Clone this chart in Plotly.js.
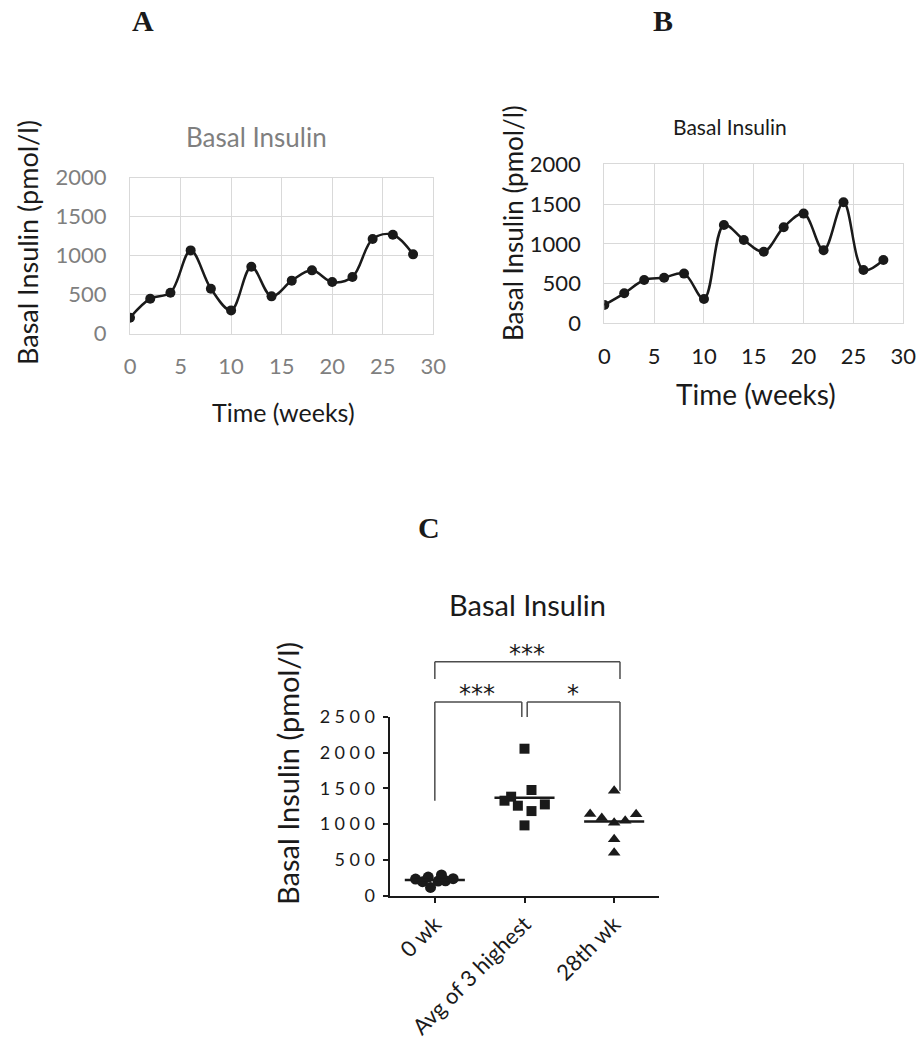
<!DOCTYPE html>
<html>
<head>
<meta charset="utf-8">
<script src="https://cdn.plot.ly/plotly-3.0.1.min.js"></script>
<style>
  html, body { margin: 0; padding: 0; background: #fff; }
  #chart { width: 919px; height: 1044px; }
  .y3tick text { letter-spacing: 4.5px; }
</style>
</head>
<body>
<div id="chart"></div>
<script>
// ---------------- DATA ----------------
const weeks = [0, 2, 4, 6, 8, 10, 12, 14, 16, 18, 20, 22, 24, 26, 28];
const insulinA = [205, 449, 526, 1068, 577, 299, 859, 479, 680, 812, 662, 727, 1214, 1269, 1017];
const insulinB = [231, 377, 545, 574, 625, 306, 1237, 1048, 901, 1208, 1380, 918, 1522, 671, 797];

const groups = ['0 wk', 'Avg of 3 highest', '28th wk'];
const wk0 = [233, 196, 260, 116, 205, 289, 209, 237];
const avg3 = [2053, 1476, 1383, 1327, 1257, 1182, 1275, 982];
const wk28 = [1466, 1140, 1085, 1019, 1047, 1136, 787, 600];

const axisTicksAB = [0, 500, 1000, 1500, 2000];
const axisTicksC = [0, 500, 1000, 1500, 2000, 2500];
const weekTicks = [0, 5, 10, 15, 20, 25, 30];

const titleText = 'Basal Insulin';
const yTitleText = 'Basal Insulin (pmol/l)';
const xTitleText = 'Time (weeks)';

// ---------------- LAYOUT HELPERS ----------------
const W = 919, H = 1044;
const fx = px => px / W;
const fy = py => 1 - py / H;

// horizontal scatter spread (layout only) for each group's points
const spread = [
  [-0.215, -0.137, -0.074, -0.048, 0.037, 0.074, 0.119, 0.204],
  [0, 0.078, -0.149, -0.223, -0.074, 0.078, 0.227, 0],
  [0, -0.268, -0.138, 0, 0.123, 0.245, 0, 0]
];
const groupVals = [wk0, avg3, wk28];
const groupSymbols = ['circle', 'square', 'triangle-up'];
const mean = a => a.reduce((s, v) => s + v, 0) / a.length;

const BLACK = '#1a1a1a';
const GRAYTXT = '#7f7f7f';
const GRID = '#d9d9d9';

const traces = [];

// Panel A
traces.push({
  x: weeks, y: insulinA, xaxis: 'x', yaxis: 'y', type: 'scatter', mode: 'lines+markers',
  line: { color: BLACK, width: 2.5, shape: 'spline', smoothing: 1 },
  marker: { color: BLACK, size: 10 }, hoverinfo: 'x+y', showlegend: false
});
// Panel B
traces.push({
  x: weeks, y: insulinB, xaxis: 'x2', yaxis: 'y2', type: 'scatter', mode: 'lines+markers',
  line: { color: BLACK, width: 2.5, shape: 'spline', smoothing: 1 },
  marker: { color: BLACK, size: 10 }, hoverinfo: 'x+y', showlegend: false
});
// Panel C points and mean lines
groupVals.forEach((vals, g) => {
  traces.push({
    x: vals.map((v, i) => g + spread[g][i]), y: vals, xaxis: 'x3', yaxis: 'y3',
    type: 'scatter', mode: 'markers', cliponaxis: false,
    marker: { color: BLACK, size: g === 1 ? 10 : 11, symbol: groupSymbols[g] },
    name: groups[g], showlegend: false
  });
  const m = mean(vals);
  traces.push({
    x: [g - 0.335, g + 0.335], y: [m, m], xaxis: 'x3', yaxis: 'y3',
    type: 'scatter', mode: 'lines', line: { color: BLACK, width: 2.5 },
    hoverinfo: 'skip', showlegend: false, cliponaxis: false
  });
});

const abX = (dom, tickColor, size) => ({
  domain: dom, range: [0, 30], tickvals: weekTicks, ticktext: weekTicks.map(String),
  showgrid: true, gridcolor: GRID, gridwidth: 1, zeroline: false,
  showline: true, mirror: true, linecolor: GRID, linewidth: 1,
  ticks: 'outside', ticklen: 13, tickcolor: 'rgba(0,0,0,0)',
  tickfont: { size: size, color: tickColor }, fixedrange: true
});
const abY = (dom, tickColor, size) => ({
  domain: dom, range: [0, 2000], tickvals: axisTicksAB, ticktext: axisTicksAB.map(String),
  showgrid: true, gridcolor: GRID, gridwidth: 1, zeroline: false,
  showline: true, mirror: true, linecolor: GRID, linewidth: 1,
  ticks: 'outside', ticklen: 18, tickcolor: 'rgba(0,0,0,0)',
  tickfont: { size: size, color: tickColor }, fixedrange: true
});

const ann = (text, x, y, size, color, extra) => Object.assign({
  text: text, x: fx(x), y: fy(y), xref: 'paper', yref: 'paper',
  xanchor: 'center', yanchor: 'middle', showarrow: false,
  font: { size: size, color: color }
}, extra || {});

const serif = { family: 'Liberation Serif, Times New Roman, serif', size: 30, color: '#1a1a1a' };
const starFont = { family: 'DejaVu Sans, sans-serif', size: 24, color: BLACK };

const annotations = [
  ann('<b>A</b>', 143, 21, 30, BLACK, { font: serif }),
  ann('<b>B</b>', 663, 21, 30, BLACK, { font: serif }),
  ann('<b>C</b>', 429, 527, 30, BLACK, { font: serif }),
  // Panel A
  ann(titleText, 256.7, 137, 26, GRAYTXT),
  ann(xTitleText, 283.3, 412, 25, BLACK),
  ann(yTitleText, 28, 243, 27, BLACK, { textangle: -90 }),
  // Panel B
  ann(titleText, 730, 126, 21, BLACK),
  ann(xTitleText, 755.7, 394, 28, BLACK),
  ann(yTitleText, 513, 223, 26, BLACK, { textangle: -90 }),
  // Panel C
  ann(titleText, 527, 604, 29, BLACK),
  ann(yTitleText, 287, 774, 29, BLACK, { textangle: -90 }),
  ann('***', 527, 654, 24, BLACK, { font: starFont }),
  ann('***', 477, 694, 24, BLACK, { font: starFont }),
  ann('*', 573, 694, 24, BLACK, { font: starFont })
];

// significance brackets (x in group units, y in page position)
const BR = '#4d4d4d';
const seg = (x0, y0, x1, y1) => ({
  type: 'line', xref: 'x3', yref: 'paper', x0: x0, x1: x1, y0: fy(y0), y1: fy(y1),
  line: { color: BR, width: 1.5 }
});
const shapes = [
  seg(0, 661.7, 2.065, 661.7), seg(0, 661.7, 0, 679), seg(2.065, 661.7, 2.065, 679),
  seg(0, 702, 0.97, 702), seg(0, 702, 0, 800.7), seg(0.97, 702, 0.97, 717),
  seg(1.03, 702, 2.065, 702), seg(1.03, 702, 1.03, 717), seg(2.065, 702, 2.065, 790.7)
];

const layout = {
  width: W, height: H,
  margin: { l: 0, r: 0, t: 0, b: 0 },
  paper_bgcolor: '#ffffff', plot_bgcolor: 'rgba(0,0,0,0)',
  font: { family: 'Lato, Carlito, sans-serif', color: BLACK },
  showlegend: false,
  xaxis: Object.assign(abX([fx(130), fx(433.3)], GRAYTXT, 22), { anchor: 'y' }),
  yaxis: Object.assign(abY([fy(333.7), fy(177.7)], GRAYTXT, 22), { anchor: 'x' }),
  xaxis2: Object.assign(abX([fx(604.3), fx(903.3)], BLACK, 22), { anchor: 'y2' }),
  yaxis2: Object.assign(abY([fy(323.3), fy(164.3)], BLACK, 22), { anchor: 'x2' }),
  xaxis3: {
    anchor: 'y3', domain: [fx(390), fx(659)], range: [-0.5, 2.5],
    tickvals: [0, 1, 2], ticktext: groups, tickangle: -45,
    showgrid: false, zeroline: false, showline: true, linecolor: BLACK, linewidth: 2,
    ticks: 'outside', ticklen: 5, tickwidth: 2, tickcolor: BLACK,
    tickfont: { size: 22, color: BLACK }, fixedrange: true
  },
  yaxis3: {
    anchor: 'x3', domain: [fy(895.7), fy(716.7)], range: [0, 2500],
    tickvals: axisTicksC, ticktext: axisTicksC.map(String),
    showgrid: false, zeroline: false, showline: true, linecolor: BLACK, linewidth: 2,
    ticks: 'outside', ticklen: 5, tickwidth: 2, tickcolor: BLACK,
    tickfont: { size: 18, color: BLACK }, fixedrange: true
  },
  annotations: annotations,
  shapes: shapes
};

Plotly.newPlot('chart', traces, layout, { displayModeBar: false, staticPlot: true });
</script>
</body>
</html>
